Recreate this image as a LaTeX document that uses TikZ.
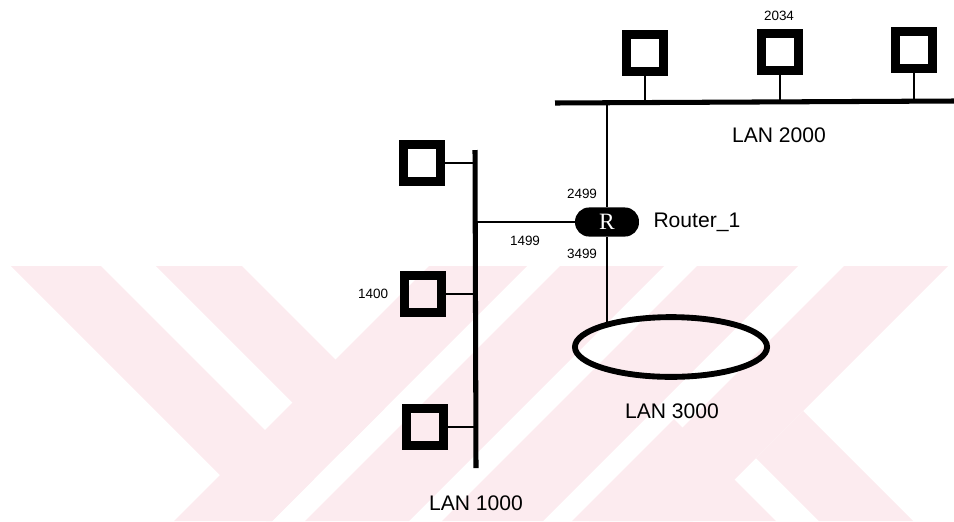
\documentclass[tikz,border=0pt]{standalone}
\usepackage{fontspec}
\setmainfont{Liberation Sans}
\newfontfamily\routerfont{Liberation Serif}
\usepackage{tikz}
\usetikzlibrary{shapes.geometric, positioning, calc}
\definecolor{markPink}{RGB}{252, 235, 239}

\begin{document}
\begin{tikzpicture}[x=0.03cm, y=-0.03cm,
  host/.style={draw, line width=7.7pt, minimum size=31.6pt, inner sep=0pt},
  bus/.style={line width=4.3pt},
  stub/.style={line width=1.2pt},
  lanlbl/.style={font=\fontsize{18}{20}\selectfont, inner sep=0pt},
  num/.style={font=\fontsize{11.5}{13}\selectfont, inner sep=0pt},
  router/.style={fill=black, rounded corners=12pt, minimum width=54.6pt,
                 minimum height=24.8pt, inner sep=0pt, text=white,
                 font=\routerfont\fontsize{20}{20}\selectfont}]

  \useasboundingbox (0,0) rectangle (954,521);

  % watermark
  \fill[markPink] (11,266) -- (101,266) -- (314,479) -- (272,521) -- (266,521) -- cycle;
  \fill[markPink] (156,266) -- (242,266) -- (384.5,408.5) -- (341.5,451.5) -- cycle;
  \fill[markPink] (429,266) -- (527,266) -- (272,521) -- (174,521) -- cycle;
  \fill[markPink] (560,266) -- (664,266) -- (409,521) -- (305,521) -- cycle;
  \fill[markPink] (697,266) -- (798,266) -- (543,521) -- (442,521) -- cycle;
  \fill[markPink] (844,266) -- (948,266) -- (693,521) -- (589,521) -- cycle;
  \fill[markPink] (674,419) -- (776,521) -- (572,521) -- cycle;
  \fill[markPink] (803,411) -- (913,521) -- (819,521) -- (756,458) -- cycle;

  % LAN 2000
  \coordinate (b2w) at (555,103);
  \coordinate (b2e) at (954,101);
  \draw[bus] (b2w) -- (b2e);
  \node[host] (h21) at (645,53) {};
  \node[host] (h22) at (780,52) {};
  \node[host] (h23) at (914,50) {};
  \foreach \h in {h21,h22,h23}
    \draw[stub] (\h.south) -- (\h.south |- b2w);
  \node[num] (n2034) at (779,16) {2034};
  \node[lanlbl] (lan2) at (779,135) {LAN 2000};

  % LAN 1000
  \coordinate (b1n) at (475,150);
  \coordinate (b1s) at (476,468);
  \draw[bus] (b1n) -- (b1s);
  \node[host] (h11) at (422,163) {};
  \node[host] (h12) at (423,294) {};
  \node[host] (h13) at (425,427) {};
  \foreach \h in {h11,h12,h13}
    \draw[stub] (\h.east) -- (\h.east -| b1n);
  \node[num, left=10pt of h12] (n1400) {1400};
  \node[lanlbl] (lan1) at (476,503) {LAN 1000};

  % router and LAN 3000
  \coordinate (tap) at (607,103);
  \node[router] (rt) at (607,222) {R};
  \node[lanlbl, right=12pt of rt] (rtname) {Router\_1};
  \node[draw, ellipse, line width=5pt, minimum width=164pt,
        minimum height=51pt, inner sep=0pt] (lan3e) at (671,347) {};
  \node[lanlbl] (lan3) at (672,411) {LAN 3000};

  \draw[stub] (tap) -- (rt.north);
  \draw[stub] (rt.south) -- (rt.south |- lan3e.161);
  \draw[stub] (rt.west) -- (rt.west -| b1n);

  \node[num] (n2499) at (582,194) {2499};
  \node[num] (n1499) at (525,241) {1499};
  \node[num] (n3499) at (582,254) {3499};

\end{tikzpicture}
\end{document}
